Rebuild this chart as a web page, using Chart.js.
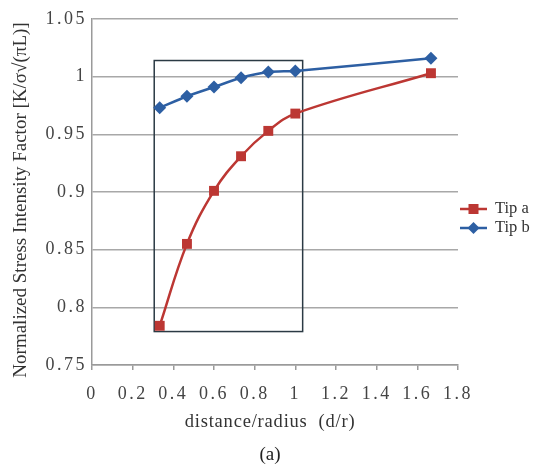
<!DOCTYPE html>
<html>
<head>
<meta charset="utf-8">
<script src="https://cdn.jsdelivr.net/npm/chart.js@4"></script>
<style>
  html, body { margin: 0; padding: 0; background: #fff; }
  #wrap { width: 537px; height: 469px; position: relative; }
</style>
</head>
<body>
<div id="wrap"><canvas id="chart" width="537" height="469"></canvas></div>
<script>
// distance/radius values (d/r)
const ratios = [0.333, 0.467, 0.6, 0.733, 0.867, 1.0, 1.667];
const tipA = [0.784, 0.855, 0.901, 0.931, 0.953, 0.968, 1.003];
const tipB = [0.973, 0.983, 0.991, 0.999, 1.004, 1.005, 1.016];
const seriesNames = ['Tip a', 'Tip b'];
// highlighted region (data units)
const boxX = [0.306, 1.036];
const boxY = [0.779, 1.014];

const xTitle = 'distance/radius  (d/r)';
const yTitle = 'Normalized Stress Intensity Factor [K/\u03c3\u221a(\u03c0L)]';
const caption = '(a)';

const RED = '#bc3733';
const BLUE = '#2d5fa3';
const SERIF = '"Liberation Serif", "DejaVu Serif", serif';

const spacing = {
    id: 'spacing',
    beforeDraw(chart) {
        chart.ctx.letterSpacing = '2.5px';
    },
    beforeDatasetsDraw(chart) {
        const ctx = chart.ctx;
        ctx.letterSpacing = '0px';
        // rectangle around the near-hole region
        const xs = chart.scales.x, ys = chart.scales.y;
        const x1 = xs.getPixelForValue(boxX[0]), x2 = xs.getPixelForValue(boxX[1]);
        const y1 = ys.getPixelForValue(boxY[1]), y2 = ys.getPixelForValue(boxY[0]);
        ctx.save();
        ctx.strokeStyle = '#2b3a44';
        ctx.lineWidth = 1.5;
        ctx.strokeRect(x1, y1, x2 - x1, y2 - y1);
        ctx.restore();
    },
    afterDraw(chart) {
        const ctx = chart.ctx;
        ctx.save();
        ctx.fillStyle = '#333';
        ctx.textAlign = 'center';
        ctx.textBaseline = 'middle';
        ctx.letterSpacing = '0.8px';
        ctx.font = '18.5px ' + SERIF;
        ctx.fillText(xTitle, 270, 422);
        ctx.letterSpacing = '0px';
        ctx.font = '19px ' + SERIF;
        ctx.fillStyle = '#222';
        ctx.fillText(caption, 270, 455);

        ctx.save();
        ctx.translate(21, 200);
        ctx.rotate(-Math.PI / 2);
        ctx.font = '19px ' + SERIF;
        ctx.fillStyle = '#333';
        ctx.fillText(yTitle, 0, 0);
        ctx.restore();

        // legend
        const rows = [209, 228];
        chart.data.datasets.forEach((ds, i) => {
            const y = rows[i];
            ctx.strokeStyle = ds.borderColor;
            ctx.lineWidth = 2.5;
            ctx.beginPath();
            ctx.moveTo(460, y);
            ctx.lineTo(487, y);
            ctx.stroke();
            ctx.fillStyle = ds.backgroundColor;
            const cx = 473.5;
            if (ds.pointStyle === 'rect') {
                ctx.fillRect(cx - 5, y - 5, 10, 10);
            } else {
                ctx.beginPath();
                ctx.moveTo(cx, y - 6);
                ctx.lineTo(cx + 6, y);
                ctx.lineTo(cx, y + 6);
                ctx.lineTo(cx - 6, y);
                ctx.closePath();
                ctx.fill();
            }
            ctx.fillStyle = '#333';
            ctx.textAlign = 'left';
            ctx.font = '16.5px ' + SERIF;
            ctx.fillText(ds.label, 495, y);
        });
        ctx.restore();
    }
};

new Chart(document.getElementById('chart'), {
    type: 'line',
    data: {
        datasets: [
            {
                label: seriesNames[0],
                data: ratios.map((r, i) => ({x: r, y: tipA[i]})),
                borderColor: RED,
                backgroundColor: RED,
                borderWidth: 2.5,
                pointStyle: 'rect',
                pointRadius: 7,
                pointBorderWidth: 0,
                tension: 0.4
            },
            {
                label: seriesNames[1],
                data: ratios.map((r, i) => ({x: r, y: tipB[i]})),
                borderColor: BLUE,
                backgroundColor: BLUE,
                borderWidth: 2.5,
                pointStyle: 'rectRot',
                pointRadius: 6.5,
                pointBorderWidth: 0,
                tension: 0.2
            }
        ]
    },
    options: {
        responsive: false,
        animation: false,
        layout: {padding: {left: 0, top: 19, right: 79, bottom: 0}},
        plugins: {
            legend: {display: false},
            tooltip: {enabled: false}
        },
        scales: {
            x: {
                type: 'linear',
                min: 0,
                max: 1.8,
                afterFit: scale => { scale.height = 104; },
                grid: {drawOnChartArea: false, tickLength: 5, color: '#9a9a9a', lineWidth: 1.5},
                border: {color: '#9a9a9a', width: 1.5},
                ticks: {
                    stepSize: 0.2,
                    padding: 13,
                    color: '#444',
                    font: {family: SERIF, size: 18},
                    maxRotation: 0,
                    callback: v => String(Number(v.toFixed(1)))
                }
            },
            y: {
                min: 0.75,
                max: 1.05,
                afterFit: scale => { scale.width = 92; },
                grid: {color: '#a8a8a8', lineWidth: 1.5, drawTicks: false},
                border: {color: '#9a9a9a', width: 1.5},
                ticks: {
                    stepSize: 0.05,
                    padding: 5,
                    color: '#444',
                    font: {family: SERIF, size: 18},
                    callback: v => String(Number(v.toFixed(2)))
                }
            }
        }
    },
    plugins: [spacing]
});
</script>
</body>
</html>
